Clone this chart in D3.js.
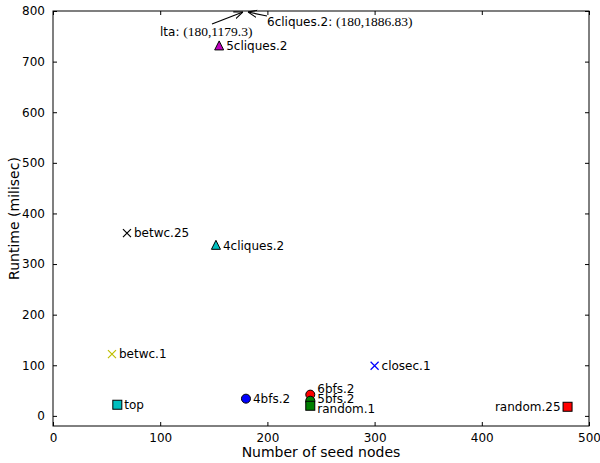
<!DOCTYPE html>
<html>
<head>
<meta charset="utf-8">
<script src="https://cdn.jsdelivr.net/npm/d3@7"></script>
<style>
  body { margin: 0; background: #fff; }
  svg { display: block; font-family: "DejaVu Sans", sans-serif; }
</style>
</head>
<body>
<svg id="chart"></svg>
<script>
// seed-node experiments: name, seeds, runtime
const names = ["top", "betwc.1", "betwc.25", "4cliques.2", "5cliques.2", "4bfs.2", "6bfs.2", "5bfs.2", "random.1", "closec.1", "random.25"];
const seeds = [60, 55, 69, 152, 155, 180, 240, 240, 240, 300, 480];
const runtimes = [22, 122, 361, 337, 731, 34, 42, 30, 20, 99, 18];
const markers = ["square", "x", "x", "triangle", "triangle", "circle", "circle", "circle", "square", "x", "square"];
const colors = ["#00bfbf", "#bfbf00", "#000000", "#00bfbf", "#bf00bf", "#0000ff", "#ff0000", "#008000", "#008000", "#0000ff", "#ff0000"];

// off-chart points annotated with arrows
const offNames = ["lta", "6cliques.2"];
const offSeeds = [180, 180];
const offRuntimes = [1179.3, 1886.83];

const xTicks = [0, 100, 200, 300, 400, 500];
const yTicks = [0, 100, 200, 300, 400, 500, 600, 700, 800];

const width = 600, height = 463;
const margin = { left: 53, right: 11, top: 11, bottom: 37 };

const svg = d3.select("#chart").attr("width", width).attr("height", height);

const x = d3.scaleLinear().domain([0, 500]).range([margin.left, width - margin.right]);
const y = d3.scaleLinear().domain([-20, 800]).range([height - margin.bottom, margin.top]);

const x0 = x.range()[0], x1 = x.range()[1], y0 = y.range()[0], y1 = y.range()[1];

// ticks on all four sides, pointing inward
svg.append("g").attr("transform", `translate(0,${y0})`)
  .call(d3.axisBottom(x).tickValues(xTicks).tickSizeInner(-4).tickSizeOuter(0).tickPadding(7))
  .call(g => g.select(".domain").remove());
svg.append("g").attr("transform", `translate(0,${y1})`)
  .call(d3.axisTop(x).tickValues(xTicks).tickSizeInner(-4).tickSizeOuter(0).tickFormat(""))
  .call(g => g.select(".domain").remove());
svg.append("g").attr("transform", `translate(${x0},0)`)
  .call(d3.axisLeft(y).tickValues(yTicks).tickSizeInner(-4).tickSizeOuter(0).tickPadding(8))
  .call(g => g.select(".domain").remove());
svg.append("g").attr("transform", `translate(${x1},0)`)
  .call(d3.axisRight(y).tickValues(yTicks).tickSizeInner(-4).tickSizeOuter(0).tickFormat(""))
  .call(g => g.select(".domain").remove());

svg.selectAll(".tick text").attr("font-size", 12).attr("fill", "#000").attr("font-family", "DejaVu Sans");
svg.selectAll(".tick line").attr("stroke", "#000");

svg.append("rect")
  .attr("x", x0).attr("y", y1).attr("width", x1 - x0).attr("height", y0 - y1)
  .attr("fill", "none").attr("stroke", "#000").attr("stroke-width", 1);

svg.append("text")
  .attr("x", (x0 + x1) / 2).attr("y", height - 6)
  .attr("text-anchor", "middle").attr("font-size", 14)
  .text("Number of seed nodes");
svg.append("text")
  .attr("transform", `translate(19,${(y0 + y1) / 2}) rotate(-90)`)
  .attr("text-anchor", "middle").attr("font-size", 14)
  .text("Runtime (milisec)");

// markers
const pts = names.map((n, i) => ({ name: n, sx: seeds[i], rt: runtimes[i], m: markers[i], c: colors[i] }));
const g = svg.append("g");
pts.forEach(d => {
  const cx = x(d.sx), cy = y(d.rt);
  if (d.m === "square") {
    g.append("rect").attr("x", cx - 4.5).attr("y", cy - 4.5).attr("width", 9).attr("height", 9)
      .attr("fill", d.c).attr("stroke", "#000").attr("stroke-width", 1);
  } else if (d.m === "circle") {
    g.append("circle").attr("cx", cx).attr("cy", cy).attr("r", 4.5)
      .attr("fill", d.c).attr("stroke", "#000").attr("stroke-width", 1);
  } else if (d.m === "triangle") {
    g.append("path").attr("d", `M${cx},${cy - 5}L${cx + 4.5},${cy + 4}L${cx - 4.5},${cy + 4}Z`)
      .attr("fill", d.c).attr("stroke", "#000").attr("stroke-width", 1);
  } else {
    g.append("path").attr("d", `M${cx - 4},${cy - 4}L${cx + 4},${cy + 4}M${cx - 4},${cy + 4}L${cx + 4},${cy - 4}`)
      .attr("stroke", d.c).attr("stroke-width", 1.2).attr("fill", "none");
  }
});

// labels (vertical nudges for the stacked trio at 240)
const labelDy = { "6bfs.2": -6, "5bfs.2": -2, "random.1": 3 };
pts.forEach(d => {
  const left = d.name === "random.25";
  g.append("text")
    .attr("x", x(d.sx) + (left ? -7 : 7))
    .attr("y", y(d.rt) + (labelDy[d.name] || 0))
    .attr("dy", "0.35em")
    .attr("text-anchor", left ? "end" : "start")
    .attr("font-size", 12)
    .text(d.name);
});

// arrow annotations for values beyond the top of the axis
svg.append("defs").append("marker")
  .attr("id", "head").attr("viewBox", "0 0 10 10").attr("refX", 10).attr("refY", 5)
  .attr("markerWidth", 9).attr("markerHeight", 9).attr("markerUnits", "userSpaceOnUse")
  .attr("orient", "auto")
  .append("path").attr("d", "M0,1L10,5L0,9").attr("fill", "none").attr("stroke", "#000").attr("stroke-width", 1.2);

const tipX = x(offSeeds[0]), tipY = y(800);
const ann = [
  { name: offNames[0], val: offRuntimes[0], sx: offSeeds[0], tx: 160, ty: 36, from: [212, 24], to: [tipX - 3, tipY + 1] },
  { name: offNames[1], val: offRuntimes[1], sx: offSeeds[1], tx: 267, ty: 26, from: [267, 16], to: [tipX + 2, tipY + 1] }
];
ann.forEach(a => {
  svg.append("line")
    .attr("x1", a.from[0]).attr("y1", a.from[1]).attr("x2", a.to[0]).attr("y2", a.to[1])
    .attr("stroke", "#000").attr("stroke-width", 1.2).attr("marker-end", "url(#head)");
  const t = svg.append("text").attr("x", a.tx).attr("y", a.ty).attr("font-size", 12);
  t.append("tspan").text(a.name + ": ");
  t.append("tspan").attr("font-family", "Liberation Serif, serif").attr("font-size", 13.5)
    .text(`(${a.sx},${a.val})`);
});
</script>
</body>
</html>
